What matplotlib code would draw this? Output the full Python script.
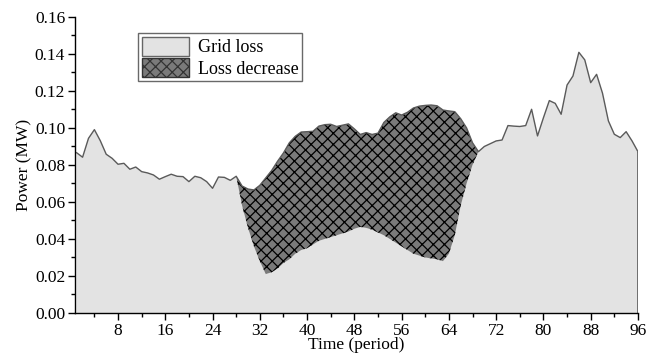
import numpy as np
import matplotlib
matplotlib.use("Agg")
import matplotlib.pyplot as plt
from matplotlib.patches import Patch

# =========================
# DATA
# =========================
periods = np.arange(1, 97)

# grid loss before optimisation (upper outline), MW
loss_before = [
    0.0866, 0.0842, 0.0944, 0.0991, 0.0931, 0.0858, 0.0836, 0.0804,
    0.0809, 0.0777, 0.0789, 0.0764, 0.0757, 0.0746, 0.0723, 0.0737,
    0.0750, 0.0739, 0.0737, 0.0710, 0.0739, 0.0731, 0.0710, 0.0674,
    0.0735, 0.0733, 0.0717, 0.0739, 0.0686, 0.0670, 0.0665, 0.0690,
    0.0730, 0.0770, 0.0820, 0.0865, 0.0920, 0.0955, 0.0978, 0.0980,
    0.0982, 0.1010, 0.1018, 0.1020, 0.1008, 0.1015, 0.1022, 0.0995,
    0.0965, 0.0975, 0.0965, 0.0972, 0.1030, 0.1060, 0.1082, 0.1070,
    0.1085, 0.1108, 0.1118, 0.1122, 0.1124, 0.1120, 0.1097, 0.1092,
    0.1088, 0.1050, 0.1000, 0.0920, 0.0872, 0.0900, 0.0915, 0.0930,
    0.0935, 0.1013, 0.1010, 0.1008, 0.1013, 0.1101, 0.0957, 0.1055,
    0.1148, 0.1133, 0.1074, 0.1232, 0.1281, 0.1409, 0.1368, 0.1245,
    0.1290, 0.1188, 0.1038, 0.0966, 0.0948, 0.0980, 0.0930, 0.0872,
]

# grid loss after optimisation, periods 28..69
dec_periods = np.arange(28, 70)
loss_after_dec = [
    0.0739, 0.0580, 0.0460, 0.0360, 0.0280, 0.0210, 0.0220, 0.0240,
    0.0270, 0.0290, 0.0320, 0.0340, 0.0350, 0.0370, 0.0390, 0.0400,
    0.0410, 0.0420, 0.0430, 0.0440, 0.0455, 0.0465, 0.0460, 0.0450,
    0.0435, 0.0420, 0.0400, 0.0380, 0.0360, 0.0340, 0.0320, 0.0310,
    0.0300, 0.0295, 0.0290, 0.0280, 0.0320, 0.0420, 0.0580, 0.0700,
    0.0800, 0.0872,
]

x_ticks = [8, 16, 24, 32, 40, 48, 56, 64, 72, 80, 88, 96]
y_ticks = [0.00, 0.02, 0.04, 0.06, 0.08, 0.10, 0.12, 0.14, 0.16]

# =========================
# derived series
# =========================
loss_before = np.array(loss_before)
loss_after = loss_before.copy()
loss_after[dec_periods - 1] = loss_after_dec

# =========================
# PLOT
# =========================
plt.rcParams["font.family"] = ["Liberation Serif", "DejaVu Serif"]
plt.rcParams["hatch.linewidth"] = 0.9
plt.rcParams["hatch.color"] = "black"

fig = plt.figure(figsize=(6.57, 3.61), dpi=100)
ax = fig.add_axes([0.114, 0.133, 0.857, 0.82])

grid_face = "#e3e3e3"
dec_face = "#7a7a7a"
line_col = "#5a5a5a"

ax.fill_between(periods, 0, loss_after, facecolor=grid_face, edgecolor="none")
ax.fill_between(dec_periods, loss_after_dec, loss_before[dec_periods - 1],
                facecolor=dec_face, edgecolor="none", hatch="xxx")
ax.plot(periods, loss_before, color=line_col, lw=1.0)
ax.vlines(periods[-1], 0, loss_before[-1], color=line_col, lw=1.2)

ax.set_xlim(0.7, 96)
ax.set_ylim(0, 0.16)
ax.set_xticks(x_ticks)
ax.set_xticks(np.arange(4, 97, 8), minor=True)
ax.set_yticks(y_ticks)
ax.set_yticks(np.arange(0.01, 0.16, 0.02), minor=True)
ax.set_yticklabels([f"{v:.2f}" for v in y_ticks])

for s in ["top", "right"]:
    ax.spines[s].set_visible(False)
for s in ["left", "bottom"]:
    ax.spines[s].set_linewidth(1.0)

ax.tick_params(which="major", direction="out", length=5, width=1, labelsize=12.5, pad=2)
ax.tick_params(which="minor", direction="out", length=3, width=1)

ax.set_xlabel("Time (period)", fontsize=12.5, labelpad=-1)
ax.set_ylabel("Power (MW)", fontsize=12.5, labelpad=2)

handles = [
    Patch(facecolor=grid_face, edgecolor="#666666", label="Grid loss"),
    Patch(facecolor=dec_face, edgecolor="#333333", hatch="xxx", label="Loss decrease"),
]
leg = ax.legend(handles=handles, loc="upper left", bbox_to_anchor=(0.112, 0.946),
                borderaxespad=0, fancybox=False, fontsize=13, frameon=True,
                handlelength=2.6, handleheight=1.25, handletextpad=0.5,
                borderpad=0.2, labelspacing=0.1)
leg.get_frame().set_edgecolor("#444444")
leg.get_frame().set_linewidth(1.0)

fig.savefig("out.png", dpi=100)
